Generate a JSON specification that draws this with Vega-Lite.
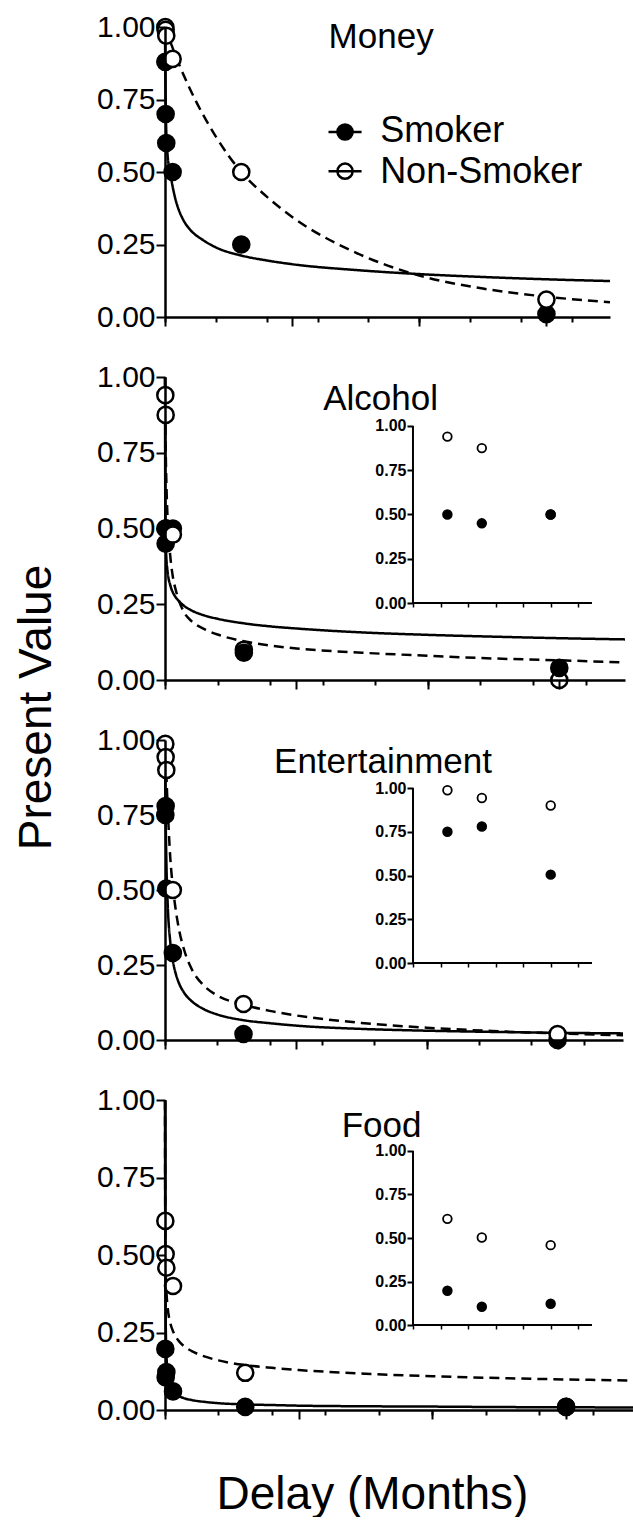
{
  "$schema": "https://vega.github.io/schema/vega-lite/v6.json",
  "padding": {"left": 13, "top": 12, "right": 0, "bottom": 0},
  "bounds": "flush",
  "spacing": 60,
  "resolve": {"scale": {"fill": "independent", "strokeDash": "independent"}},
  "config": {
    "view": {"stroke": null},
    "font": "Liberation Sans",
    "axis": {"labelFont": "Liberation Sans", "titleFont": "Liberation Sans", "labelColor": "black", "tickColor": "black", "domainColor": "black", "titleColor": "black", "grid": false},
    "text": {"font": "Liberation Sans", "color": "black"}
  },
  "datasets": {
    "curves": [
      {"panel": "Money", "group": "Smoker", "delay": 0, "value": 1.0},
      {"panel": "Money", "group": "Smoker", "delay": 0.25, "value": 0.85},
      {"panel": "Money", "group": "Smoker", "delay": 0.5, "value": 0.75},
      {"panel": "Money", "group": "Smoker", "delay": 1, "value": 0.64},
      {"panel": "Money", "group": "Smoker", "delay": 2, "value": 0.56},
      {"panel": "Money", "group": "Smoker", "delay": 4, "value": 0.5},
      {"panel": "Money", "group": "Smoker", "delay": 6, "value": 0.45},
      {"panel": "Money", "group": "Smoker", "delay": 8, "value": 0.41},
      {"panel": "Money", "group": "Smoker", "delay": 10, "value": 0.38},
      {"panel": "Money", "group": "Smoker", "delay": 15, "value": 0.33},
      {"panel": "Money", "group": "Smoker", "delay": 20, "value": 0.3},
      {"panel": "Money", "group": "Smoker", "delay": 30, "value": 0.265},
      {"panel": "Money", "group": "Smoker", "delay": 40, "value": 0.24},
      {"panel": "Money", "group": "Smoker", "delay": 60, "value": 0.212},
      {"panel": "Money", "group": "Smoker", "delay": 80, "value": 0.195},
      {"panel": "Money", "group": "Smoker", "delay": 100, "value": 0.182},
      {"panel": "Money", "group": "Smoker", "delay": 150, "value": 0.162},
      {"panel": "Money", "group": "Smoker", "delay": 200, "value": 0.148},
      {"panel": "Money", "group": "Smoker", "delay": 250, "value": 0.138},
      {"panel": "Money", "group": "Smoker", "delay": 300, "value": 0.13},
      {"panel": "Money", "group": "Smoker", "delay": 350, "value": 0.124},
      {"panel": "Money", "group": "Non-Smoker", "delay": 0, "value": 1.0},
      {"panel": "Money", "group": "Non-Smoker", "delay": 0.25, "value": 0.997},
      {"panel": "Money", "group": "Non-Smoker", "delay": 0.5, "value": 0.994},
      {"panel": "Money", "group": "Non-Smoker", "delay": 1, "value": 0.987},
      {"panel": "Money", "group": "Non-Smoker", "delay": 2, "value": 0.975},
      {"panel": "Money", "group": "Non-Smoker", "delay": 4, "value": 0.951},
      {"panel": "Money", "group": "Non-Smoker", "delay": 6, "value": 0.928},
      {"panel": "Money", "group": "Non-Smoker", "delay": 8, "value": 0.905},
      {"panel": "Money", "group": "Non-Smoker", "delay": 10, "value": 0.883},
      {"panel": "Money", "group": "Non-Smoker", "delay": 15, "value": 0.831},
      {"panel": "Money", "group": "Non-Smoker", "delay": 20, "value": 0.783},
      {"panel": "Money", "group": "Non-Smoker", "delay": 30, "value": 0.697},
      {"panel": "Money", "group": "Non-Smoker", "delay": 40, "value": 0.622},
      {"panel": "Money", "group": "Non-Smoker", "delay": 60, "value": 0.5},
      {"panel": "Money", "group": "Non-Smoker", "delay": 80, "value": 0.415},
      {"panel": "Money", "group": "Non-Smoker", "delay": 100, "value": 0.345},
      {"panel": "Money", "group": "Non-Smoker", "delay": 150, "value": 0.222},
      {"panel": "Money", "group": "Non-Smoker", "delay": 200, "value": 0.143},
      {"panel": "Money", "group": "Non-Smoker", "delay": 250, "value": 0.098},
      {"panel": "Money", "group": "Non-Smoker", "delay": 300, "value": 0.07},
      {"panel": "Money", "group": "Non-Smoker", "delay": 350, "value": 0.051},
      {"panel": "Alcohol", "group": "Smoker", "delay": 0, "value": 1.0},
      {"panel": "Alcohol", "group": "Smoker", "delay": 0.25, "value": 0.53},
      {"panel": "Alcohol", "group": "Smoker", "delay": 0.5, "value": 0.463},
      {"panel": "Alcohol", "group": "Smoker", "delay": 1, "value": 0.406},
      {"panel": "Alcohol", "group": "Smoker", "delay": 2, "value": 0.356},
      {"panel": "Alcohol", "group": "Smoker", "delay": 4, "value": 0.313},
      {"panel": "Alcohol", "group": "Smoker", "delay": 6, "value": 0.289},
      {"panel": "Alcohol", "group": "Smoker", "delay": 8, "value": 0.274},
      {"panel": "Alcohol", "group": "Smoker", "delay": 10, "value": 0.263},
      {"panel": "Alcohol", "group": "Smoker", "delay": 15, "value": 0.243},
      {"panel": "Alcohol", "group": "Smoker", "delay": 20, "value": 0.23},
      {"panel": "Alcohol", "group": "Smoker", "delay": 30, "value": 0.213},
      {"panel": "Alcohol", "group": "Smoker", "delay": 40, "value": 0.202},
      {"panel": "Alcohol", "group": "Smoker", "delay": 60, "value": 0.187},
      {"panel": "Alcohol", "group": "Smoker", "delay": 80, "value": 0.177},
      {"panel": "Alcohol", "group": "Smoker", "delay": 100, "value": 0.17},
      {"panel": "Alcohol", "group": "Smoker", "delay": 150, "value": 0.157},
      {"panel": "Alcohol", "group": "Smoker", "delay": 200, "value": 0.149},
      {"panel": "Alcohol", "group": "Smoker", "delay": 250, "value": 0.143},
      {"panel": "Alcohol", "group": "Smoker", "delay": 300, "value": 0.138},
      {"panel": "Alcohol", "group": "Smoker", "delay": 350, "value": 0.134},
      {"panel": "Alcohol", "group": "Non-Smoker", "delay": 0, "value": 1.0},
      {"panel": "Alcohol", "group": "Non-Smoker", "delay": 0.25, "value": 0.86},
      {"panel": "Alcohol", "group": "Non-Smoker", "delay": 0.5, "value": 0.77},
      {"panel": "Alcohol", "group": "Non-Smoker", "delay": 1, "value": 0.66},
      {"panel": "Alcohol", "group": "Non-Smoker", "delay": 2, "value": 0.53},
      {"panel": "Alcohol", "group": "Non-Smoker", "delay": 4, "value": 0.41},
      {"panel": "Alcohol", "group": "Non-Smoker", "delay": 6, "value": 0.34},
      {"panel": "Alcohol", "group": "Non-Smoker", "delay": 8, "value": 0.3},
      {"panel": "Alcohol", "group": "Non-Smoker", "delay": 10, "value": 0.27},
      {"panel": "Alcohol", "group": "Non-Smoker", "delay": 15, "value": 0.22},
      {"panel": "Alcohol", "group": "Non-Smoker", "delay": 20, "value": 0.195},
      {"panel": "Alcohol", "group": "Non-Smoker", "delay": 30, "value": 0.168},
      {"panel": "Alcohol", "group": "Non-Smoker", "delay": 40, "value": 0.15},
      {"panel": "Alcohol", "group": "Non-Smoker", "delay": 60, "value": 0.128},
      {"panel": "Alcohol", "group": "Non-Smoker", "delay": 80, "value": 0.114},
      {"panel": "Alcohol", "group": "Non-Smoker", "delay": 100, "value": 0.104},
      {"panel": "Alcohol", "group": "Non-Smoker", "delay": 150, "value": 0.09},
      {"panel": "Alcohol", "group": "Non-Smoker", "delay": 200, "value": 0.08},
      {"panel": "Alcohol", "group": "Non-Smoker", "delay": 250, "value": 0.071},
      {"panel": "Alcohol", "group": "Non-Smoker", "delay": 300, "value": 0.065},
      {"panel": "Alcohol", "group": "Non-Smoker", "delay": 350, "value": 0.058},
      {"panel": "Entertainment", "group": "Smoker", "delay": 0, "value": 1.0},
      {"panel": "Entertainment", "group": "Smoker", "delay": 0.25, "value": 0.846},
      {"panel": "Entertainment", "group": "Smoker", "delay": 0.5, "value": 0.742},
      {"panel": "Entertainment", "group": "Smoker", "delay": 1, "value": 0.606},
      {"panel": "Entertainment", "group": "Smoker", "delay": 2, "value": 0.46},
      {"panel": "Entertainment", "group": "Smoker", "delay": 4, "value": 0.328},
      {"panel": "Entertainment", "group": "Smoker", "delay": 6, "value": 0.264},
      {"panel": "Entertainment", "group": "Smoker", "delay": 8, "value": 0.224},
      {"panel": "Entertainment", "group": "Smoker", "delay": 10, "value": 0.197},
      {"panel": "Entertainment", "group": "Smoker", "delay": 15, "value": 0.155},
      {"panel": "Entertainment", "group": "Smoker", "delay": 20, "value": 0.131},
      {"panel": "Entertainment", "group": "Smoker", "delay": 30, "value": 0.102},
      {"panel": "Entertainment", "group": "Smoker", "delay": 40, "value": 0.085},
      {"panel": "Entertainment", "group": "Smoker", "delay": 60, "value": 0.066},
      {"panel": "Entertainment", "group": "Smoker", "delay": 80, "value": 0.056},
      {"panel": "Entertainment", "group": "Smoker", "delay": 100, "value": 0.048},
      {"panel": "Entertainment", "group": "Smoker", "delay": 150, "value": 0.037},
      {"panel": "Entertainment", "group": "Smoker", "delay": 200, "value": 0.031},
      {"panel": "Entertainment", "group": "Smoker", "delay": 250, "value": 0.027},
      {"panel": "Entertainment", "group": "Smoker", "delay": 300, "value": 0.024},
      {"panel": "Entertainment", "group": "Smoker", "delay": 350, "value": 0.022},
      {"panel": "Entertainment", "group": "Non-Smoker", "delay": 0, "value": 1.0},
      {"panel": "Entertainment", "group": "Non-Smoker", "delay": 0.25, "value": 0.975},
      {"panel": "Entertainment", "group": "Non-Smoker", "delay": 0.5, "value": 0.95},
      {"panel": "Entertainment", "group": "Non-Smoker", "delay": 1, "value": 0.89},
      {"panel": "Entertainment", "group": "Non-Smoker", "delay": 2, "value": 0.78},
      {"panel": "Entertainment", "group": "Non-Smoker", "delay": 4, "value": 0.61},
      {"panel": "Entertainment", "group": "Non-Smoker", "delay": 6, "value": 0.51},
      {"panel": "Entertainment", "group": "Non-Smoker", "delay": 8, "value": 0.44},
      {"panel": "Entertainment", "group": "Non-Smoker", "delay": 10, "value": 0.385},
      {"panel": "Entertainment", "group": "Non-Smoker", "delay": 15, "value": 0.295},
      {"panel": "Entertainment", "group": "Non-Smoker", "delay": 20, "value": 0.24},
      {"panel": "Entertainment", "group": "Non-Smoker", "delay": 30, "value": 0.18},
      {"panel": "Entertainment", "group": "Non-Smoker", "delay": 40, "value": 0.148},
      {"panel": "Entertainment", "group": "Non-Smoker", "delay": 60, "value": 0.118},
      {"panel": "Entertainment", "group": "Non-Smoker", "delay": 80, "value": 0.097},
      {"panel": "Entertainment", "group": "Non-Smoker", "delay": 100, "value": 0.082},
      {"panel": "Entertainment", "group": "Non-Smoker", "delay": 150, "value": 0.057},
      {"panel": "Entertainment", "group": "Non-Smoker", "delay": 200, "value": 0.041},
      {"panel": "Entertainment", "group": "Non-Smoker", "delay": 250, "value": 0.03},
      {"panel": "Entertainment", "group": "Non-Smoker", "delay": 300, "value": 0.022},
      {"panel": "Entertainment", "group": "Non-Smoker", "delay": 350, "value": 0.016},
      {"panel": "Food", "group": "Smoker", "delay": 0, "value": 1.0},
      {"panel": "Food", "group": "Smoker", "delay": 0.25, "value": 0.45},
      {"panel": "Food", "group": "Smoker", "delay": 0.5, "value": 0.3},
      {"panel": "Food", "group": "Smoker", "delay": 1, "value": 0.19},
      {"panel": "Food", "group": "Smoker", "delay": 2, "value": 0.12},
      {"panel": "Food", "group": "Smoker", "delay": 4, "value": 0.08},
      {"panel": "Food", "group": "Smoker", "delay": 6, "value": 0.062},
      {"panel": "Food", "group": "Smoker", "delay": 8, "value": 0.052},
      {"panel": "Food", "group": "Smoker", "delay": 10, "value": 0.046},
      {"panel": "Food", "group": "Smoker", "delay": 15, "value": 0.037},
      {"panel": "Food", "group": "Smoker", "delay": 20, "value": 0.032},
      {"panel": "Food", "group": "Smoker", "delay": 30, "value": 0.026},
      {"panel": "Food", "group": "Smoker", "delay": 40, "value": 0.022},
      {"panel": "Food", "group": "Smoker", "delay": 60, "value": 0.018},
      {"panel": "Food", "group": "Smoker", "delay": 80, "value": 0.016},
      {"panel": "Food", "group": "Smoker", "delay": 100, "value": 0.014},
      {"panel": "Food", "group": "Smoker", "delay": 150, "value": 0.012},
      {"panel": "Food", "group": "Smoker", "delay": 200, "value": 0.011},
      {"panel": "Food", "group": "Smoker", "delay": 250, "value": 0.0095},
      {"panel": "Food", "group": "Smoker", "delay": 300, "value": 0.0088},
      {"panel": "Food", "group": "Smoker", "delay": 350, "value": 0.008},
      {"panel": "Food", "group": "Non-Smoker", "delay": 0, "value": 1.0},
      {"panel": "Food", "group": "Non-Smoker", "delay": 0.25, "value": 0.538},
      {"panel": "Food", "group": "Non-Smoker", "delay": 0.5, "value": 0.459},
      {"panel": "Food", "group": "Non-Smoker", "delay": 1, "value": 0.39},
      {"panel": "Food", "group": "Non-Smoker", "delay": 2, "value": 0.331},
      {"panel": "Food", "group": "Non-Smoker", "delay": 4, "value": 0.28},
      {"panel": "Food", "group": "Non-Smoker", "delay": 6, "value": 0.254},
      {"panel": "Food", "group": "Non-Smoker", "delay": 8, "value": 0.237},
      {"panel": "Food", "group": "Non-Smoker", "delay": 10, "value": 0.224},
      {"panel": "Food", "group": "Non-Smoker", "delay": 15, "value": 0.203},
      {"panel": "Food", "group": "Non-Smoker", "delay": 20, "value": 0.19},
      {"panel": "Food", "group": "Non-Smoker", "delay": 30, "value": 0.172},
      {"panel": "Food", "group": "Non-Smoker", "delay": 40, "value": 0.16},
      {"panel": "Food", "group": "Non-Smoker", "delay": 60, "value": 0.145},
      {"panel": "Food", "group": "Non-Smoker", "delay": 80, "value": 0.136},
      {"panel": "Food", "group": "Non-Smoker", "delay": 100, "value": 0.129},
      {"panel": "Food", "group": "Non-Smoker", "delay": 150, "value": 0.117},
      {"panel": "Food", "group": "Non-Smoker", "delay": 200, "value": 0.109},
      {"panel": "Food", "group": "Non-Smoker", "delay": 250, "value": 0.103},
      {"panel": "Food", "group": "Non-Smoker", "delay": 300, "value": 0.0986},
      {"panel": "Food", "group": "Non-Smoker", "delay": 350, "value": 0.095}
    ],
    "points": [
      {"panel": "Money", "group": "Smoker", "delay": 0.25, "value": 0.88},
      {"panel": "Money", "group": "Smoker", "delay": 0.5, "value": 0.7},
      {"panel": "Money", "group": "Smoker", "delay": 1, "value": 0.6},
      {"panel": "Money", "group": "Smoker", "delay": 6, "value": 0.5},
      {"panel": "Money", "group": "Smoker", "delay": 60, "value": 0.25},
      {"panel": "Money", "group": "Smoker", "delay": 300, "value": 0.01},
      {"panel": "Money", "group": "Non-Smoker", "delay": 0.25, "value": 1.0},
      {"panel": "Money", "group": "Non-Smoker", "delay": 0.5, "value": 0.99},
      {"panel": "Money", "group": "Non-Smoker", "delay": 1, "value": 0.97},
      {"panel": "Money", "group": "Non-Smoker", "delay": 6, "value": 0.89},
      {"panel": "Money", "group": "Non-Smoker", "delay": 60, "value": 0.5},
      {"panel": "Money", "group": "Non-Smoker", "delay": 300, "value": 0.06},
      {"panel": "Alcohol", "group": "Non-Smoker", "delay": 1, "value": 0.5},
      {"panel": "Alcohol", "group": "Non-Smoker", "delay": 60, "value": 0.1},
      {"panel": "Alcohol", "group": "Non-Smoker", "delay": 300, "value": 0.0},
      {"panel": "Alcohol", "group": "Smoker", "delay": 0.25, "value": 0.5},
      {"panel": "Alcohol", "group": "Smoker", "delay": 0.5, "value": 0.45},
      {"panel": "Alcohol", "group": "Smoker", "delay": 1, "value": 0.5},
      {"panel": "Alcohol", "group": "Smoker", "delay": 6, "value": 0.5},
      {"panel": "Alcohol", "group": "Smoker", "delay": 60, "value": 0.09},
      {"panel": "Alcohol", "group": "Smoker", "delay": 300, "value": 0.04},
      {"panel": "Alcohol", "group": "Non-Smoker", "delay": 0.25, "value": 0.94},
      {"panel": "Alcohol", "group": "Non-Smoker", "delay": 0.5, "value": 0.875},
      {"panel": "Alcohol", "group": "Non-Smoker", "delay": 6, "value": 0.48},
      {"panel": "Entertainment", "group": "Smoker", "delay": 0.25, "value": 0.75},
      {"panel": "Entertainment", "group": "Smoker", "delay": 0.5, "value": 0.78},
      {"panel": "Entertainment", "group": "Smoker", "delay": 1, "value": 0.505},
      {"panel": "Entertainment", "group": "Smoker", "delay": 6, "value": 0.29},
      {"panel": "Entertainment", "group": "Smoker", "delay": 60, "value": 0.02},
      {"panel": "Entertainment", "group": "Smoker", "delay": 300, "value": 0.0},
      {"panel": "Entertainment", "group": "Non-Smoker", "delay": 0.25, "value": 0.987},
      {"panel": "Entertainment", "group": "Non-Smoker", "delay": 0.5, "value": 0.943},
      {"panel": "Entertainment", "group": "Non-Smoker", "delay": 1, "value": 0.9},
      {"panel": "Entertainment", "group": "Non-Smoker", "delay": 6, "value": 0.5},
      {"panel": "Entertainment", "group": "Non-Smoker", "delay": 60, "value": 0.12},
      {"panel": "Entertainment", "group": "Non-Smoker", "delay": 300, "value": 0.02},
      {"panel": "Food", "group": "Non-Smoker", "delay": 300, "value": 0.01},
      {"panel": "Food", "group": "Smoker", "delay": 0.25, "value": 0.197},
      {"panel": "Food", "group": "Smoker", "delay": 0.5, "value": 0.105},
      {"panel": "Food", "group": "Smoker", "delay": 1, "value": 0.122},
      {"panel": "Food", "group": "Smoker", "delay": 6, "value": 0.06},
      {"panel": "Food", "group": "Smoker", "delay": 60, "value": 0.01},
      {"panel": "Food", "group": "Smoker", "delay": 300, "value": 0.01},
      {"panel": "Food", "group": "Non-Smoker", "delay": 0.25, "value": 0.61},
      {"panel": "Food", "group": "Non-Smoker", "delay": 0.5, "value": 0.503},
      {"panel": "Food", "group": "Non-Smoker", "delay": 1, "value": 0.459},
      {"panel": "Food", "group": "Non-Smoker", "delay": 6, "value": 0.4},
      {"panel": "Food", "group": "Non-Smoker", "delay": 60, "value": 0.12}
    ]
  },
  "vconcat": [
    {
      "width": 445,
      "height": 290,
      "resolve": {"scale": {"x": "independent", "y": "independent"}},
      "layer": [
        {
          "layer": [
            {
              "data": {"name": "curves"},
              "transform": [{"filter": "datum.panel === 'Money'"}],
              "mark": {"type": "line", "strokeWidth": 2.5, "interpolate": "monotone", "color": "black"},
              "encoding": {
                "x": {"field": "delay", "type": "quantitative", "scale": {"domain": [0, 350], "nice": false, "zero": false},
                  "axis": {"title": null, "values": [0,10,20,30,40,50,60,70,80,90,100,110,120,130,140,150,160,170,180,190,200,210,220,230,240,250,260,270,280,290,300,310,320,330,340,350], "labels": false, "tickSize": 5, "tickWidth": 2, "domainWidth": 2.5, "zindex": 1}},
                "y": {"field": "value", "type": "quantitative", "scale": {"domain": [0, 1], "nice": false},
                  "axis": {"title": null, "values": [0, 0.25, 0.5, 0.75, 1], "format": ".2f", "labelFontSize": 30, "tickSize": 9, "tickWidth": 2, "domainWidth": 2.5, "labelPadding": 1, "zindex": 1}},
                "strokeDash": {"field": "group", "type": "nominal", "scale": {"domain": ["Smoker", "Non-Smoker"], "range": [[1, 0], [10, 6]]}, "legend": null}
              }
            },
            {
              "data": {"name": "points"},
              "transform": [{"filter": "datum.panel === 'Money'"}],
              "mark": {"type": "point", "shape": "circle", "filled": true, "size": 260, "stroke": "black", "strokeWidth": 2.5, "opacity": 1},
              "encoding": {
                "x": {"field": "delay", "type": "quantitative"},
                "y": {"field": "value", "type": "quantitative"},
                "fill": {"field": "group", "type": "nominal", "scale": {"domain": ["Smoker", "Non-Smoker"], "range": ["black", "white"]}, "legend": null}
              }
            },
            {
              "data": {"values": [{"label": "Money"}]},
              "mark": {"type": "text", "fontSize": 35, "align": "center", "baseline": "alphabetic"},
              "encoding": {"x": {"datum": 170, "type": "quantitative"}, "y": {"datum": 0.928, "type": "quantitative"}, "text": {"field": "label", "type": "nominal"}}
            },
            {
              "data": {"values": [{}]},
              "mark": {"type": "rule", "strokeWidth": 2.5, "color": "black"},
              "encoding": {"x": {"datum": 128.6, "type": "quantitative"}, "x2": {"datum": 154.6}, "y": {"datum": 0.638, "type": "quantitative"}}
            },
            {
              "data": {"values": [{}]},
              "mark": {"type": "point", "shape": "circle", "filled": true, "size": 230, "stroke": "black", "strokeWidth": 2.5, "fill": "black", "opacity": 1},
              "encoding": {"x": {"datum": 141.6, "type": "quantitative"}, "y": {"datum": 0.638, "type": "quantitative"}}
            },
            {
              "data": {"values": [{"label": "Smoker"}]},
              "mark": {"type": "text", "fontSize": 36, "align": "left", "baseline": "alphabetic"},
              "encoding": {"x": {"datum": 169.2, "type": "quantitative"}, "y": {"datum": 0.603, "type": "quantitative"}, "text": {"field": "label", "type": "nominal"}}
            },
            {
              "data": {"values": [{}]},
              "mark": {"type": "point", "shape": "circle", "filled": true, "size": 230, "stroke": "black", "strokeWidth": 2.5, "fill": "white", "opacity": 1},
              "encoding": {"x": {"datum": 141.6, "type": "quantitative"}, "y": {"datum": 0.503, "type": "quantitative"}}
            },
            {
              "data": {"values": [{}]},
              "mark": {"type": "rule", "strokeWidth": 2.5, "color": "black"},
              "encoding": {"x": {"datum": 128.6, "type": "quantitative"}, "x2": {"datum": 154.6}, "y": {"datum": 0.503, "type": "quantitative"}}
            },
            {
              "data": {"values": [{"label": "Non-Smoker"}]},
              "mark": {"type": "text", "fontSize": 36, "align": "left", "baseline": "alphabetic"},
              "encoding": {"x": {"datum": 169.2, "type": "quantitative"}, "y": {"datum": 0.462, "type": "quantitative"}, "text": {"field": "label", "type": "nominal"}}
            }
          ]
        },
        {
          "data": {"values": [{}]},
          "mark": {"type": "rule", "opacity": 0},
          "encoding": {"x": {"datum": 0, "type": "quantitative", "scale": {"domain": [0, 350], "nice": false, "zero": false},
            "axis": {"title": null, "orient": "bottom", "values": [0, 100, 200, 300], "labels": false, "domain": false, "tickSize": 9, "tickWidth": 2, "zindex": 1}}}
        }
      ]
    },
    {
      "width": 460,
      "height": 303,
      "resolve": {"scale": {"x": "independent", "y": "independent"}},
      "layer": [
        {
          "layer": [
            {
              "data": {"name": "curves"},
              "transform": [{"filter": "datum.panel === 'Alcohol'"}],
              "mark": {"type": "line", "strokeWidth": 2.5, "interpolate": "monotone", "color": "black"},
              "encoding": {
                "x": {"field": "delay", "type": "quantitative", "scale": {"domain": [0, 350], "nice": false, "zero": false},
                  "axis": {"title": null, "values": [0,10,20,30,40,50,60,70,80,90,100,110,120,130,140,150,160,170,180,190,200,210,220,230,240,250,260,270,280,290,300,310,320,330,340,350], "labels": false, "tickSize": 5, "tickWidth": 2, "domainWidth": 2.5, "zindex": 1}},
                "y": {"field": "value", "type": "quantitative", "scale": {"domain": [0, 1], "nice": false},
                  "axis": {"title": "Present Value", "titleFontSize": 46, "titleFontWeight": "normal", "titleX": -115, "titleY": 330, "titleBaseline": "alphabetic", "titleAlign": "center", "titleAngle": 270,
                    "values": [0, 0.25, 0.5, 0.75, 1], "format": ".2f", "labelFontSize": 30, "tickSize": 9, "tickWidth": 2, "domainWidth": 2.5, "labelPadding": 1, "zindex": 1}},
                "strokeDash": {"field": "group", "type": "nominal", "scale": {"domain": ["Smoker", "Non-Smoker"], "range": [[1, 0], [10, 6]]}, "legend": null}
              }
            },
            {
              "data": {"name": "points"},
              "transform": [{"filter": "datum.panel === 'Alcohol'"}],
              "mark": {"type": "point", "shape": "circle", "filled": true, "size": 260, "stroke": "black", "strokeWidth": 2.5, "opacity": 1},
              "encoding": {
                "x": {"field": "delay", "type": "quantitative"},
                "y": {"field": "value", "type": "quantitative"},
                "fill": {"field": "group", "type": "nominal", "scale": {"domain": ["Smoker", "Non-Smoker"], "range": ["black", "white"]}, "legend": null}
              }
            },
            {
              "data": {"values": [{"label": "Alcohol"}]},
              "mark": {"type": "text", "fontSize": 35, "align": "center", "baseline": "alphabetic"},
              "encoding": {"x": {"datum": 164, "type": "quantitative"}, "y": {"datum": 0.891, "type": "quantitative"}, "text": {"field": "label", "type": "nominal"}}
            }
          ]
        },
        {
          "layer": [
            {
              "data": {"name": "points"},
              "transform": [{"filter": "datum.panel === 'Alcohol' && datum.delay <= 1"}],
              "mark": {"type": "point", "shape": "circle", "filled": true, "size": 75, "stroke": "black", "strokeWidth": 1.8, "opacity": 1},
              "encoding": {
                "x": {"field": "delay", "type": "quantitative", "scale": {"domain": [-1.801, 1.54], "nice": false, "zero": false},
                  "axis": {"title": null, "orient": "bottom", "offset": -77, "domain": false, "labels": false, "values": [0,0.05,0.1,0.15,0.2,0.25,0.3,0.35,0.4,0.45,0.5,0.55,0.6,0.65,0.7,0.75,0.8,0.85,0.9,0.95,1,1.05,1.1,1.15,1.2,1.25,1.3], "tickSize": 4, "tickWidth": 1.5}},
                "y": {"field": "value", "type": "quantitative", "scale": {"domain": [-0.435, 1.2768], "nice": false, "zero": false},
                  "axis": {"title": null, "orient": "left", "offset": -248, "domain": false, "values": [0, 0.25, 0.5, 0.75, 1], "format": ".2f", "labelFontSize": 16, "labelFontWeight": "bold", "tickSize": 6, "tickWidth": 2, "labelPadding": 1}},
                "fill": {"field": "group", "type": "nominal", "scale": {"domain": ["Smoker", "Non-Smoker"], "range": ["black", "white"]}, "legend": null}
              }
            },
            {
              "data": {"values": [{}]},
              "mark": {"type": "rule", "strokeWidth": 2, "color": "black"},
              "encoding": {"x": {"datum": 0, "type": "quantitative"}, "y": {"datum": 0, "type": "quantitative"}, "y2": {"datum": 1}}
            },
            {
              "data": {"values": [{}]},
              "mark": {"type": "rule", "strokeWidth": 2, "color": "black"},
              "encoding": {"x": {"datum": 0, "type": "quantitative"}, "x2": {"datum": 1.3}, "y": {"datum": 0, "type": "quantitative"}}
            }
          ]
        },
        {
          "data": {"values": [{}]},
          "mark": {"type": "rule", "opacity": 0},
          "encoding": {"x": {"datum": 0, "type": "quantitative", "scale": {"domain": [0, 350], "nice": false, "zero": false},
            "axis": {"title": null, "orient": "bottom", "values": [0, 100, 200, 300], "labels": false, "domain": false, "tickSize": 9, "tickWidth": 2, "zindex": 1}}}
        }
      ]
    },
    {
      "width": 458,
      "height": 300,
      "resolve": {"scale": {"x": "independent", "y": "independent"}},
      "layer": [
        {
          "layer": [
            {
              "data": {"name": "curves"},
              "transform": [{"filter": "datum.panel === 'Entertainment'"}],
              "mark": {"type": "line", "strokeWidth": 2.5, "interpolate": "monotone", "color": "black"},
              "encoding": {
                "x": {"field": "delay", "type": "quantitative", "scale": {"domain": [0, 350], "nice": false, "zero": false},
                  "axis": {"title": null, "values": [0,10,20,30,40,50,60,70,80,90,100,110,120,130,140,150,160,170,180,190,200,210,220,230,240,250,260,270,280,290,300,310,320,330,340,350], "labels": false, "tickSize": 5, "tickWidth": 2, "domainWidth": 2.5, "zindex": 1}},
                "y": {"field": "value", "type": "quantitative", "scale": {"domain": [0, 1], "nice": false},
                  "axis": {"title": null, "values": [0, 0.25, 0.5, 0.75, 1], "format": ".2f", "labelFontSize": 30, "tickSize": 9, "tickWidth": 2, "domainWidth": 2.5, "labelPadding": 1, "zindex": 1}},
                "strokeDash": {"field": "group", "type": "nominal", "scale": {"domain": ["Smoker", "Non-Smoker"], "range": [[1, 0], [10, 6]]}, "legend": null}
              }
            },
            {
              "data": {"name": "points"},
              "transform": [{"filter": "datum.panel === 'Entertainment'"}],
              "mark": {"type": "point", "shape": "circle", "filled": true, "size": 260, "stroke": "black", "strokeWidth": 2.5, "opacity": 1},
              "encoding": {
                "x": {"field": "delay", "type": "quantitative"},
                "y": {"field": "value", "type": "quantitative"},
                "fill": {"field": "group", "type": "nominal", "scale": {"domain": ["Smoker", "Non-Smoker"], "range": ["black", "white"]}, "legend": null}
              }
            },
            {
              "data": {"values": [{"label": "Entertainment"}]},
              "mark": {"type": "text", "fontSize": 35, "align": "center", "baseline": "alphabetic"},
              "encoding": {"x": {"datum": 166.6, "type": "quantitative"}, "y": {"datum": 0.89, "type": "quantitative"}, "text": {"field": "label", "type": "nominal"}}
            }
          ]
        },
        {
          "layer": [
            {
              "data": {"name": "points"},
              "transform": [{"filter": "datum.panel === 'Entertainment' && datum.delay <= 1"}],
              "mark": {"type": "point", "shape": "circle", "filled": true, "size": 75, "stroke": "black", "strokeWidth": 1.8, "opacity": 1},
              "encoding": {
                "x": {"field": "delay", "type": "quantitative", "scale": {"domain": [-1.801, 1.525], "nice": false, "zero": false},
                  "axis": {"title": null, "orient": "bottom", "offset": -77, "domain": false, "labels": false, "values": [0,0.05,0.1,0.15,0.2,0.25,0.3,0.35,0.4,0.45,0.5,0.55,0.6,0.65,0.7,0.75,0.8,0.85,0.9,0.95,1,1.05,1.1,1.15,1.2,1.25,1.3], "tickSize": 4, "tickWidth": 1.5}},
                "y": {"field": "value", "type": "quantitative", "scale": {"domain": [-0.44, 1.2743], "nice": false, "zero": false},
                  "axis": {"title": null, "orient": "left", "offset": -248, "domain": false, "values": [0, 0.25, 0.5, 0.75, 1], "format": ".2f", "labelFontSize": 16, "labelFontWeight": "bold", "tickSize": 6, "tickWidth": 2, "labelPadding": 1}},
                "fill": {"field": "group", "type": "nominal", "scale": {"domain": ["Smoker", "Non-Smoker"], "range": ["black", "white"]}, "legend": null}
              }
            },
            {
              "data": {"values": [{}]},
              "mark": {"type": "rule", "strokeWidth": 2, "color": "black"},
              "encoding": {"x": {"datum": 0, "type": "quantitative"}, "y": {"datum": 0, "type": "quantitative"}, "y2": {"datum": 1}}
            },
            {
              "data": {"values": [{}]},
              "mark": {"type": "rule", "strokeWidth": 2, "color": "black"},
              "encoding": {"x": {"datum": 0, "type": "quantitative"}, "x2": {"datum": 1.3}, "y": {"datum": 0, "type": "quantitative"}}
            }
          ]
        },
        {
          "data": {"values": [{}]},
          "mark": {"type": "rule", "opacity": 0},
          "encoding": {"x": {"datum": 0, "type": "quantitative", "scale": {"domain": [0, 350], "nice": false, "zero": false},
            "axis": {"title": null, "orient": "bottom", "values": [0, 100, 200, 300], "labels": false, "domain": false, "tickSize": 9, "tickWidth": 2, "zindex": 1}}}
        }
      ]
    },
    {
      "width": 468,
      "height": 310,
      "resolve": {"scale": {"x": "independent", "y": "independent"}},
      "layer": [
        {
          "layer": [
            {
              "data": {"name": "curves"},
              "transform": [{"filter": "datum.panel === 'Food'"}],
              "mark": {"type": "line", "strokeWidth": 2.5, "interpolate": "monotone", "color": "black"},
              "encoding": {
                "x": {"field": "delay", "type": "quantitative", "scale": {"domain": [0, 350], "nice": false, "zero": false},
                  "axis": {"title": "Delay (Months)", "titleFontSize": 46, "titleFontWeight": "normal", "titleX": 207, "titleY": 98, "titleBaseline": "alphabetic", "titleAlign": "center",
                    "values": [0,10,20,30,40,50,60,70,80,90,100,110,120,130,140,150,160,170,180,190,200,210,220,230,240,250,260,270,280,290,300,310,320,330,340,350], "labels": false, "tickSize": 5, "tickWidth": 2, "domainWidth": 2.5, "zindex": 1}},
                "y": {"field": "value", "type": "quantitative", "scale": {"domain": [0, 1], "nice": false},
                  "axis": {"title": null, "values": [0, 0.25, 0.5, 0.75, 1], "format": ".2f", "labelFontSize": 30, "tickSize": 9, "tickWidth": 2, "domainWidth": 2.5, "labelPadding": 1, "zindex": 1}},
                "strokeDash": {"field": "group", "type": "nominal", "scale": {"domain": ["Smoker", "Non-Smoker"], "range": [[1, 0], [10, 6]]}, "legend": null}
              }
            },
            {
              "data": {"name": "points"},
              "transform": [{"filter": "datum.panel === 'Food'"}],
              "mark": {"type": "point", "shape": "circle", "filled": true, "size": 260, "stroke": "black", "strokeWidth": 2.5, "opacity": 1},
              "encoding": {
                "x": {"field": "delay", "type": "quantitative"},
                "y": {"field": "value", "type": "quantitative"},
                "fill": {"field": "group", "type": "nominal", "scale": {"domain": ["Smoker", "Non-Smoker"], "range": ["black", "white"]}, "legend": null}
              }
            },
            {
              "data": {"values": [{"label": "Food"}]},
              "mark": {"type": "text", "fontSize": 35, "align": "center", "baseline": "alphabetic"},
              "encoding": {"x": {"datum": 162, "type": "quantitative"}, "y": {"datum": 0.881, "type": "quantitative"}, "text": {"field": "label", "type": "nominal"}}
            }
          ]
        },
        {
          "layer": [
            {
              "data": {"name": "points"},
              "transform": [{"filter": "datum.panel === 'Food' && datum.delay <= 1"}],
              "mark": {"type": "point", "shape": "circle", "filled": true, "size": 75, "stroke": "black", "strokeWidth": 1.8, "opacity": 1},
              "encoding": {
                "x": {"field": "delay", "type": "quantitative", "scale": {"domain": [-1.801, 1.598], "nice": false, "zero": false},
                  "axis": {"title": null, "orient": "bottom", "offset": -85, "domain": false, "labels": false, "values": [0,0.05,0.1,0.15,0.2,0.25,0.3,0.35,0.4,0.45,0.5,0.55,0.6,0.65,0.7,0.75,0.8,0.85,0.9,0.95,1,1.05,1.1,1.15,1.2,1.25,1.3], "tickSize": 4, "tickWidth": 1.5}},
                "y": {"field": "value", "type": "quantitative", "scale": {"domain": [-0.4885, 1.2931], "nice": false, "zero": false},
                  "axis": {"title": null, "orient": "left", "offset": -248, "domain": false, "values": [0, 0.25, 0.5, 0.75, 1], "format": ".2f", "labelFontSize": 16, "labelFontWeight": "bold", "tickSize": 6, "tickWidth": 2, "labelPadding": 1}},
                "fill": {"field": "group", "type": "nominal", "scale": {"domain": ["Smoker", "Non-Smoker"], "range": ["black", "white"]}, "legend": null}
              }
            },
            {
              "data": {"values": [{}]},
              "mark": {"type": "rule", "strokeWidth": 2, "color": "black"},
              "encoding": {"x": {"datum": 0, "type": "quantitative"}, "y": {"datum": 0, "type": "quantitative"}, "y2": {"datum": 1}}
            },
            {
              "data": {"values": [{}]},
              "mark": {"type": "rule", "strokeWidth": 2, "color": "black"},
              "encoding": {"x": {"datum": 0, "type": "quantitative"}, "x2": {"datum": 1.3}, "y": {"datum": 0, "type": "quantitative"}}
            }
          ]
        },
        {
          "data": {"values": [{}]},
          "mark": {"type": "rule", "opacity": 0},
          "encoding": {"x": {"datum": 0, "type": "quantitative", "scale": {"domain": [0, 350], "nice": false, "zero": false},
            "axis": {"title": null, "orient": "bottom", "values": [0, 100, 200, 300], "labels": false, "domain": false, "tickSize": 9, "tickWidth": 2, "zindex": 1}}}
        }
      ]
    }
  ]
}
